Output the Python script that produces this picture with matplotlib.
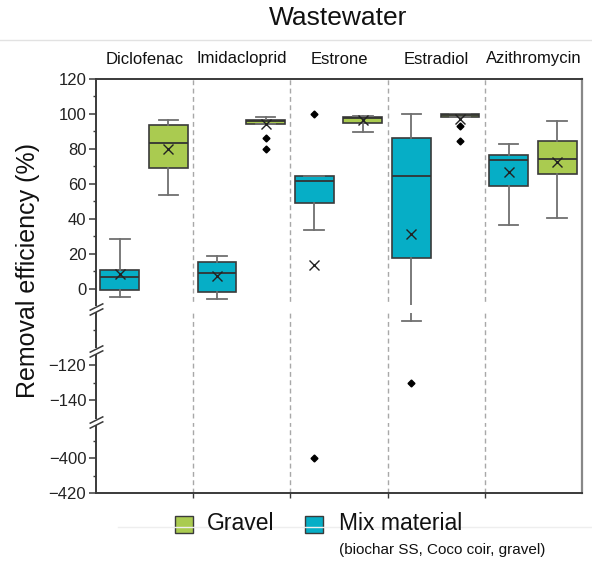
import numpy as np
import matplotlib
matplotlib.use("Agg")
import matplotlib.pyplot as plt
from matplotlib.path import Path
from matplotlib.patches import Rectangle
from matplotlib.lines import Line2D

plt.rcParams["font.family"] = ["Liberation Sans", "DejaVu Sans"]

# ---- data -----------------------------------------------------------------
compounds = ["Diclofenac", "Imidacloprid", "Estrone", "Estradiol", "Azithromycin"]

# Mix material (biochar SS, Coco coir, gravel)
mix_whislo = [-4.7, -5.9, 33.6, -95.0, 36.4]
mix_q1 = [-0.7, -1.9, 48.8, 17.5, 58.7]
mix_med = [6.7, 8.8, 61.5, 64.6, 73.9]
mix_q3 = [11.0, 15.4, 64.6, 86.2, 76.5]
mix_whishi = [28.7, 19.0, 64.6, 99.9, 83.0]
mix_mean = [8.4, 7.4, 13.5, 31.3, 66.9]
mix_fliers = [[], [], [99.9, -400.0], [-130.0], []]

# Gravel
grv_whislo = [53.5, 94.0, 89.8, 98.5, 40.4]
grv_q1 = [69.1, 94.0, 95.1, 98.5, 65.5]
grv_med = [83.2, 95.7, 97.6, 99.3, 74.4]
grv_q3 = [93.4, 96.5, 98.3, 99.9, 84.7]
grv_whishi = [96.5, 98.2, 98.9, 100.2, 95.7]
grv_mean = [80.0, 94.2, 96.6, 97.0, 72.3]
grv_fliers = [[], [86.0, 80.1], [], [93.0, 84.5], []]

major_ticks = [120, 100, 80, 60, 40, 20, 0, -120, -140, -400, -420]
minor_ticks = [110, 90, 70, 50, 30, 10, -100, -130, -390, -410]

MIX_COLOR = "#06AEC6"
GRAVEL_COLOR = "#AACB50"

# ---- broken y scale (piecewise linear) -------------------------------------
seg_y = np.array([-420.0, -380.0, -152.0, -88.0, -11.0, 120.0])
seg_pos = -np.array([493.0, 423.0, 421.0, 309.0, 308.0, 79.0])


def fwd(y):
    return np.interp(y, seg_y, seg_pos)


def inv(t):
    return np.interp(t, seg_pos, seg_y)


W, H = 592, 563
fig = plt.figure(figsize=(W / 100, H / 100), dpi=100)
ax = fig.add_axes([96 / W, 1 - 493 / H, 486 / W, 414 / H])
ax.set_yscale("function", functions=(fwd, inv))
ax.set_ylim(-420, 120)
ax.set_xlim(-0.5, len(compounds) - 0.5)


def make_stats(lo, q1, med, q3, hi, mean, fl):
    return [dict(whislo=a, q1=b, med=c, q3=d, whishi=e, mean=f, fliers=g)
            for a, b, c, d, e, f, g in zip(lo, q1, med, q3, hi, mean, fl)]


common = dict(
    widths=0.4, capwidths=0.2, patch_artist=True, showmeans=True,
    whiskerprops=dict(color="#707070", lw=1.3),
    capprops=dict(color="#707070", lw=1.3),
    medianprops=dict(color="#333333", lw=1.3),
    meanprops=dict(marker="x", markeredgecolor="#222222", markersize=7, mew=1.0),
    flierprops=dict(marker="D", markerfacecolor="black", markeredgecolor="black",
                    markersize=3.5),
)

x = np.arange(len(compounds))
bm = ax.bxp(make_stats(mix_whislo, mix_q1, mix_med, mix_q3, mix_whishi, mix_mean, mix_fliers),
            positions=x - 0.255, **common)
bg = ax.bxp(make_stats(grv_whislo, grv_q1, grv_med, grv_q3, grv_whishi, grv_mean, grv_fliers),
            positions=x + 0.245, **common)
for b in bm["boxes"]:
    b.set_facecolor(MIX_COLOR)
    b.set_edgecolor("#3a3a3a")
    b.set_linewidth(1.2)
for b in bg["boxes"]:
    b.set_facecolor(GRAVEL_COLOR)
    b.set_edgecolor("#3a3a3a")
    b.set_linewidth(1.2)

# group separators
for xb in x[:-1] + 0.5:
    ax.axvline(xb, color="#a8a8a8", lw=1.0, ls=(0, (3.5, 2.5)), zorder=0)

# gaps across the plot at the axis breaks
ax.axhspan(-90.0, -9.5, color="white", zorder=5, lw=0)
ax.axhspan(-378.0, -154.0, color="white", zorder=5, lw=0)

# axes styling (spines above the break gaps)
for s in ["left", "top", "bottom"]:
    ax.spines[s].set_color("#3a3a3a")
    ax.spines[s].set_linewidth(1.4)
ax.spines["right"].set_color("#888888")
ax.spines["right"].set_linewidth(1.6)
for s in ax.spines.values():
    s.set_zorder(6)

ax.set_yticks(major_ticks)
ax.set_yticks(minor_ticks, minor=True)
ax.tick_params(axis="y", which="major", direction="out", length=5, width=1.1,
               color="#3a3a3a", labelsize=12, labelcolor="#222222", pad=2)
ax.tick_params(axis="y", which="minor", direction="out", length=2.5, width=1.0,
               color="#3a3a3a")

ax.set_xticks(x)
ax.set_xticklabels(compounds)
ax.set_xticks(x[:-1] + 0.5, minor=True)
ax.xaxis.set_ticks_position("both")
ax.tick_params(axis="x", which="major", bottom=False, top=False, labelbottom=False,
               labeltop=True, length=0, labelsize=12, labelcolor="#111111", pad=9)
ax.tick_params(axis="x", which="minor", bottom=True, top=False, direction="out",
               length=3.5, width=1.0, color="#3a3a3a")

# break symbols on the left axis
slash = Path([(-7, -6), (7, 1), (-7, -1), (7, 6)],
             [Path.MOVETO, Path.LINETO, Path.MOVETO, Path.LINETO])
notch = Path([(-2, -2.6), (2, -2.6), (2, 2.6), (-2, 2.6), (-2, -2.6)],
             [Path.MOVETO, Path.LINETO, Path.LINETO, Path.LINETO, Path.CLOSEPOLY])
ytr = ax.get_yaxis_transform()
for yb in [-49.5, -112.0, -266.0]:
    ax.plot([0], [yb], marker=notch, markersize=3.8, markerfacecolor="white",
            markeredgecolor="white", mew=0, transform=ytr, clip_on=False, zorder=10)
    ax.plot([0], [yb], marker=slash, markersize=10, markeredgecolor="#3a3a3a",
            mew=1.1, transform=ytr, clip_on=False, zorder=11, ls="none")

# labels and title
fig.text(28 / W, 1 - 270 / H, "Removal efficiency (%)", rotation=90, ha="center",
         va="center", fontsize=18, color="#111111")
fig.text(338 / W, 1 - 18 / H, "Wastewater", ha="center", va="center", fontsize=19,
         color="#111111")

# faint frame lines
fig.add_artist(Line2D([0, 1], [1 - 40 / H, 1 - 40 / H], transform=fig.transFigure,
                      color="#e2e2e2", lw=1.0))
fig.add_artist(Line2D([0.2, 1], [1 - 527 / H, 1 - 527 / H], transform=fig.transFigure,
                      color="#eeeeee", lw=1.0))

# legend
fig.add_artist(Rectangle((175 / W, 1 - 533 / H), 18 / W, 17 / H, transform=fig.transFigure,
                         facecolor=GRAVEL_COLOR, edgecolor="#3a3a3a", lw=1.0))
fig.add_artist(Rectangle((305 / W, 1 - 533 / H), 18 / W, 17 / H, transform=fig.transFigure,
                         facecolor=MIX_COLOR, edgecolor="#3a3a3a", lw=1.0))
fig.text(207 / W, 1 - 524 / H, "Gravel", ha="left", va="center", fontsize=16.5,
         color="#111111")
fig.text(339 / W, 1 - 524 / H, "Mix material", ha="left", va="center", fontsize=16.5,
         color="#111111")
fig.text(339 / W, 1 - 550 / H, "(biochar SS, Coco coir, gravel)", ha="left", va="center",
         fontsize=11, color="#111111")

fig.savefig("out.png", dpi=100)
